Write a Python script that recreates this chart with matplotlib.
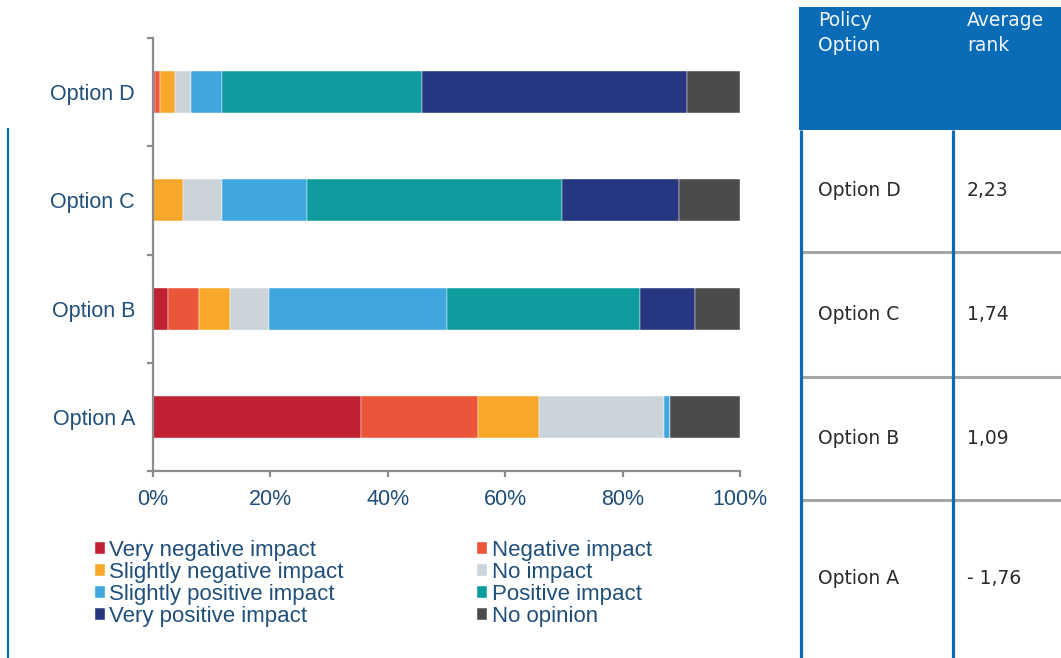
import matplotlib
matplotlib.use("Agg")
import matplotlib.pyplot as plt
from matplotlib.patches import Rectangle
import numpy as np

# Survey results: share of respondents (%) per policy option
options = ["Option A", "Option B", "Option C", "Option D"]
categories = [
    "Very negative impact", "Negative impact", "Slightly negative impact",
    "No impact", "Slightly positive impact", "Positive impact",
    "Very positive impact", "No opinion",
]
very_negative = [35.4, 2.6, 0.0, 0.3]
negative = [19.9, 5.2, 0.0, 0.9]
slightly_negative = [10.5, 5.3, 5.1, 2.5]
no_impact = [21.2, 6.6, 6.6, 2.7]
slightly_positive = [1.1, 30.4, 14.6, 5.3]
positive = [0.0, 32.9, 43.4, 34.2]
very_positive = [0.0, 9.3, 19.9, 45.0]
no_opinion = [11.9, 7.7, 10.4, 9.1]
x_ticks = [0, 20, 40, 60, 80, 100]

# Ranking table
table_options = ["Option D", "Option C", "Option B", "Option A"]
avg_rank = [2.23, 1.74, 1.09, -1.76]
table_header = ["Policy\nOption", "Average\nrank"]

series = [very_negative, negative, slightly_negative, no_impact,
          slightly_positive, positive, very_positive, no_opinion]
colors = ["#BF2132", "#EB553A", "#F7A82B", "#CBD3DB",
          "#3FA7DE", "#0F9C9E", "#273680", "#4B4B4B"]

W, H = 1061, 658
text_col = "#1F4E79"
spine_col = "#8C8C8C"
blue = "#0A6CB6"

fig = plt.figure(figsize=(W / 100, H / 100), dpi=100)
ax = fig.add_axes([153 / W, 1 - 471 / H, 587 / W, 433 / H])

y = np.arange(len(options))
left = np.zeros(len(options))
for name, vals, col in zip(categories, series, colors):
    vals = np.asarray(vals, dtype=float)
    ax.barh(y, vals, left=left, height=0.39, color=col, label=name,
            edgecolor="white", linewidth=0.3)
    left += vals

ax.set_xlim(0, 100)
ax.set_ylim(-0.5, len(options) - 0.5)
ax.set_xticks(x_ticks, [f"{v}%" for v in x_ticks])
ax.set_yticks(y, options)
ax.set_yticks(np.arange(-0.5, len(options), 1.0), minor=True)

for side in ("top", "right"):
    ax.spines[side].set_visible(False)
for side in ("left", "bottom"):
    ax.spines[side].set_color(spine_col)
    ax.spines[side].set_linewidth(1.6)

ax.tick_params(axis="y", which="major", length=0, pad=13,
               labelsize=15.5, labelcolor=text_col)
ax.tick_params(axis="y", which="minor", length=4, width=1.6,
               color=spine_col, direction="out")
ax.tick_params(axis="x", which="major", length=4, width=1.6,
               color=spine_col, direction="out", pad=9,
               labelsize=15.5, labelcolor=text_col)
for lab in ax.get_xticklabels() + ax.get_yticklabels():
    lab.set_fontfamily("Liberation Sans")

# Legend laid out in rows of two
handles, labels = ax.get_legend_handles_labels()
order = [0, 2, 4, 6, 1, 3, 5, 7]
fig.legend([handles[i] for i in order], [labels[i] for i in order],
           ncol=2, loc="upper left", bbox_to_anchor=(95 / W, 1 - 540 / H),
           frameon=False, borderpad=0, borderaxespad=0,
           prop={"family": "Liberation Sans", "size": 16},
           handlelength=0.45, handleheight=0.45, handletextpad=0.2,
           labelspacing=0.05, columnspacing=6.0, labelcolor=text_col)

# Overlay in pixel units for the side table and frame lines
tab = fig.add_axes([0, 0, 1, 1])
tab.set_xlim(0, W)
tab.set_ylim(H, 0)
tab.axis("off")
tab.patch.set_visible(False)

tab.plot([7.5, 7.5], [128, H], color=blue, lw=1.6, solid_capstyle="butt")

header_top, header_bottom = 7, 130
row_edges = [130, 252, 377, 500, H]
col_x = [800.5, 952.5]
text_x = [818, 967]

tab.add_patch(Rectangle((799, header_top), W - 799, header_bottom - header_top,
                        facecolor=blue, edgecolor="none"))
for yy in row_edges[1:-1]:
    tab.plot([802, W], [yy, yy], color="#A6A6A6", lw=2.2, solid_capstyle="butt")
for xx in col_x:
    tab.plot([xx, xx], [header_bottom, H], color=blue, lw=2.3, solid_capstyle="butt")

for tx, htxt in zip(text_x, table_header):
    tab.text(tx, 11, htxt, color="#F2F6FA", fontsize=13.5, family="DejaVu Sans",
             va="top", ha="left", linespacing=1.4)

for i, (opt, val) in enumerate(zip(table_options, avg_rank)):
    yc = (row_edges[i] + row_edges[i + 1]) / 2
    tab.text(text_x[0], yc, opt, color="#2B2B2B", fontsize=13.5,
             family="DejaVu Sans", va="center", ha="left")
    tab.text(text_x[1], yc, f"{val:.2f}".replace(".", ",").replace("-", "- "),
             color="#2B2B2B", fontsize=13.5, family="DejaVu Sans",
             va="center", ha="left")

fig.savefig("out.png", dpi=100)
